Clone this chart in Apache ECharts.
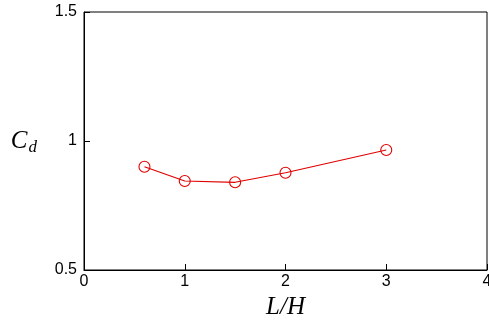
<!DOCTYPE html>
<html>
<head>
<meta charset="utf-8">
<script src="https://cdn.jsdelivr.net/npm/echarts@6/dist/echarts.min.js"></script>
<style>html,body{margin:0;padding:0;background:#fff;}#c{width:489px;height:322px;}</style>
</head>
<body>
<div id="c"></div>
<script>
const xValues = [0.6, 1, 1.5, 2, 3];
const cdValues = [0.900, 0.845, 0.840, 0.877, 0.965];

const chart = echarts.init(document.getElementById('c'), null, {renderer: 'canvas'});
chart.setOption({
  animation: false,
  backgroundColor: '#fff',
  grid: {left: 84, right: 2, top: 12, bottom: 52, show: true, borderColor: '#000', borderWidth: 1,
         containLabel: false, outerBoundsMode: 'none'},
  xAxis: {
    type: 'value', min: 0, max: 4, interval: 1,
    name: '{i|L/H}', nameLocation: 'middle', nameGap: 24,
    nameTextStyle: {rich: {i: {fontFamily: 'Liberation Serif', fontStyle: 'italic', fontSize: 25, color: '#000'}}},
    axisLine: {show: true, lineStyle: {color: '#000', width: 1}},
    axisTick: {show: true, inside: true, length: 6, lineStyle: {color: '#000'}},
    axisLabel: {color: '#000', fontFamily: 'Liberation Sans', fontSize: 16, margin: 4, showMaxLabel: true, hideOverlap: false},
    splitLine: {show: false}
  },
  yAxis: {
    type: 'value', min: 0.5, max: 1.5, interval: 0.5,
    name: '{c|C}{d|d}', nameLocation: 'middle', nameGap: 47, nameRotate: 0,
    nameTextStyle: {rich: {
      c: {fontFamily: 'Liberation Serif', fontStyle: 'italic', fontSize: 25, color: '#000'},
      d: {fontFamily: 'Liberation Serif', fontStyle: 'italic', fontSize: 17, color: '#000', padding: [14, 0, 0, 1]}
    }},
    axisLine: {show: true, lineStyle: {color: '#000', width: 1}},
    axisTick: {show: true, inside: true, length: 6, lineStyle: {color: '#000'}},
    axisLabel: {color: '#000', fontFamily: 'Liberation Sans', fontSize: 16, margin: 7, formatter: v => String(v)},
    splitLine: {show: false}
  },
  series: [{
    type: 'line',
    data: xValues.map((x, i) => [x, cdValues[i]]),
    symbol: 'circle', symbolSize: 11,
    z: 2,
    itemStyle: {color: 'rgba(0,0,0,0)', borderColor: '#e00000', borderWidth: 1.1},
    lineStyle: {color: '#e00000', width: 1.2}
  }]
});
</script>
</body>
</html>
